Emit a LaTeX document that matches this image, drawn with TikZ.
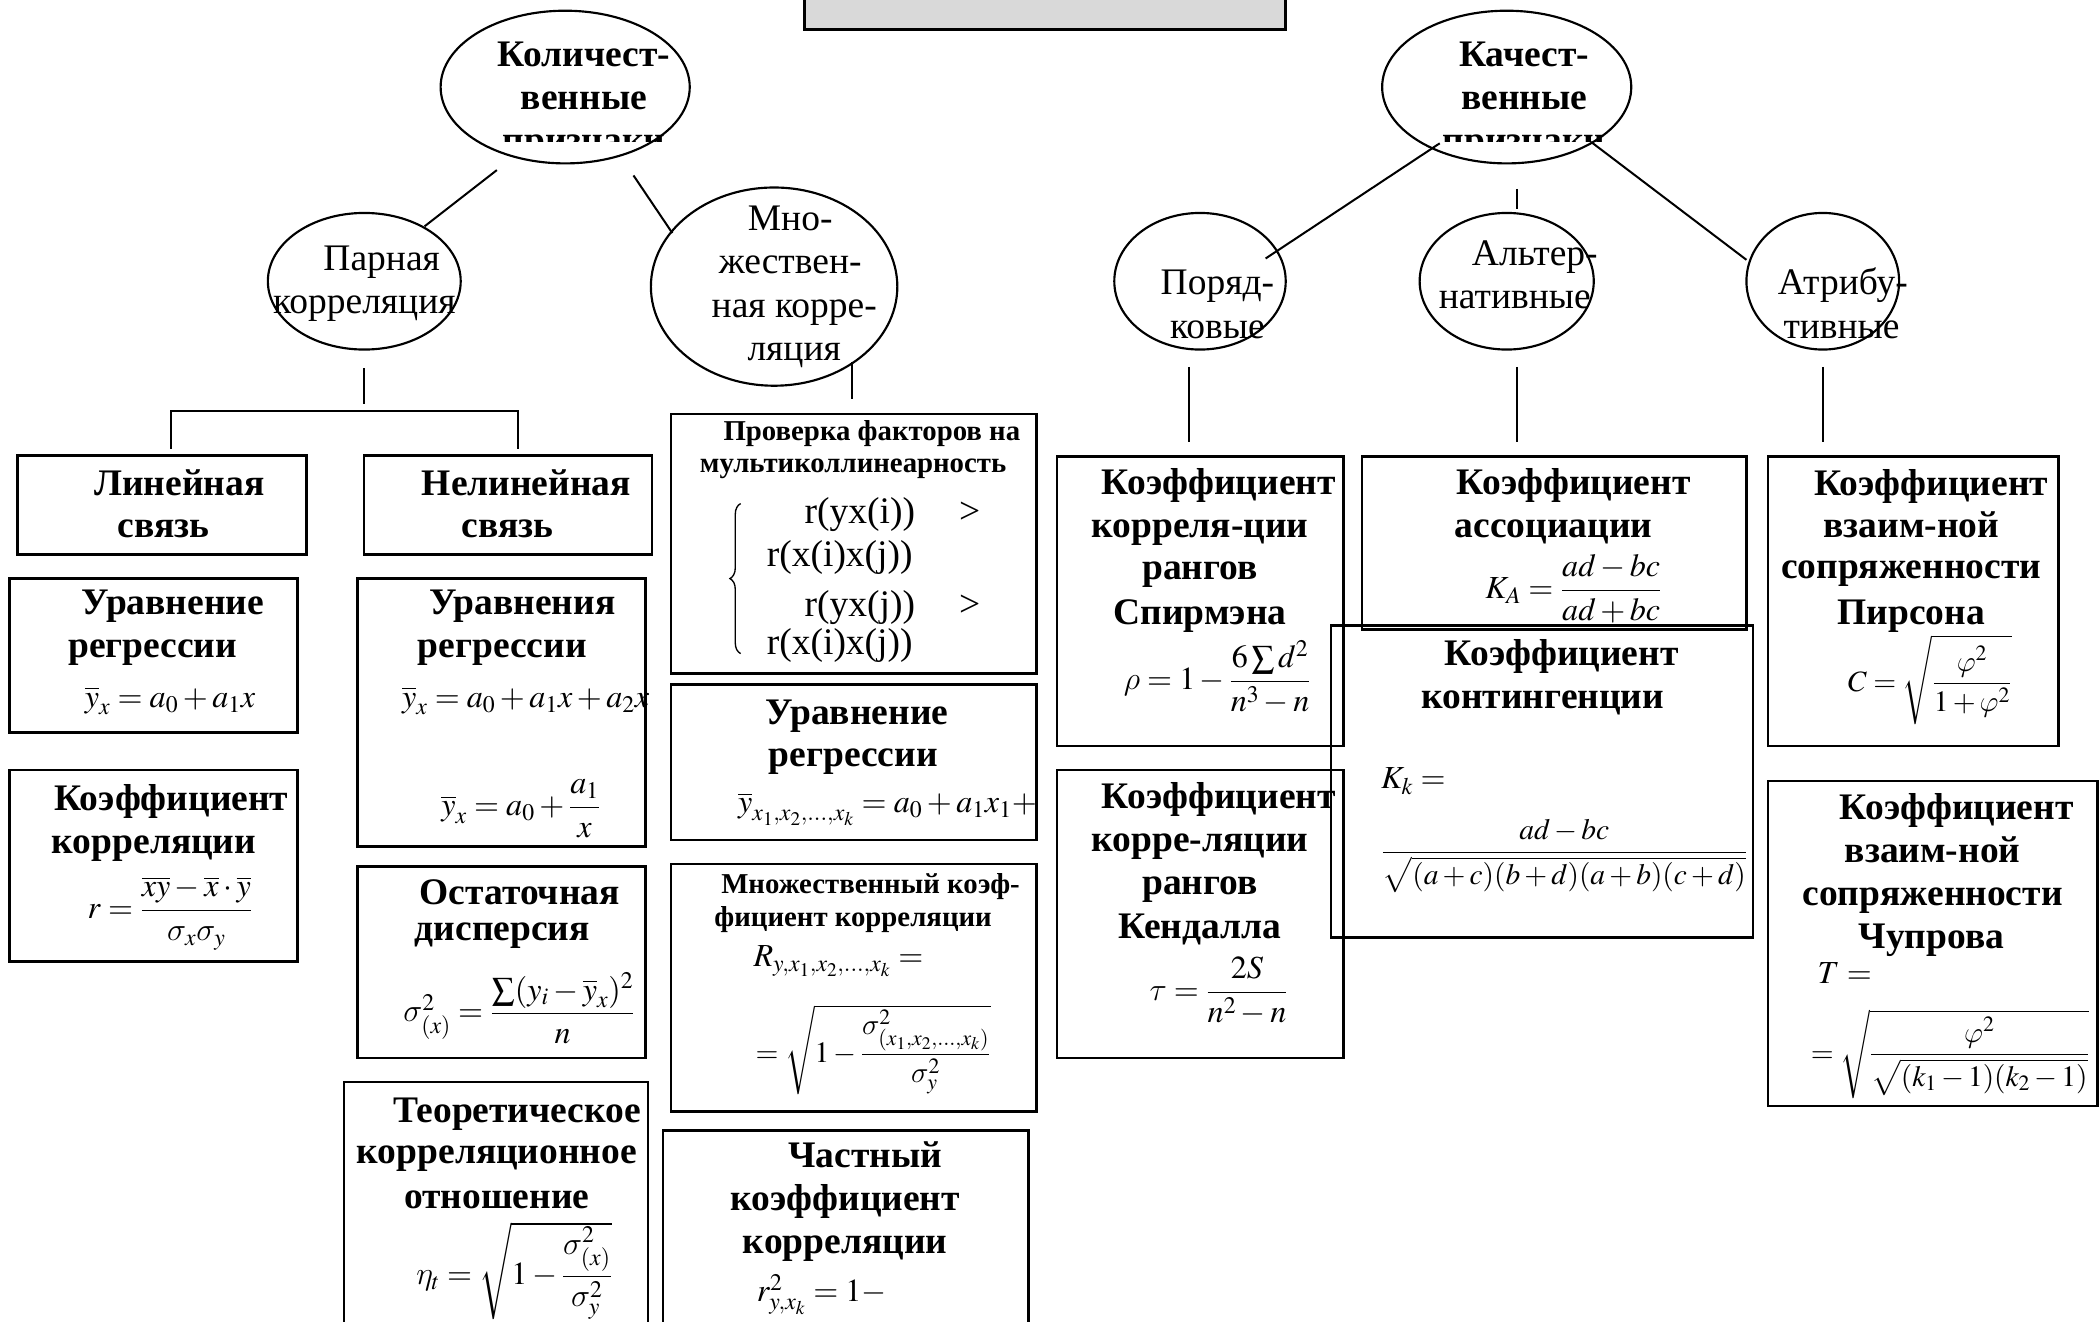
\RequirePackage{fix-cm}
\documentclass[tikz,border=0pt]{standalone}
\usepackage{amsmath}
\usepackage{mathptmx}
\DeclareSymbolFont{cmgreek}{OML}{cmm}{m}{it}
\DeclareMathSymbol{\sigma}{\mathord}{cmgreek}{"1B}
\DeclareMathSymbol{\rho}{\mathord}{cmgreek}{"1A}
\DeclareMathSymbol{\tau}{\mathord}{cmgreek}{"1C}
\DeclareMathSymbol{\eta}{\mathord}{cmgreek}{"11}
\DeclareMathSymbol{\varphi}{\mathord}{cmgreek}{"27}
\usepackage{fontspec}
\setmainfont{Liberation Serif}
\usetikzlibrary{shapes.geometric,decorations.pathreplacing}
\definecolor{greyfill}{RGB}{217,217,217}
\newcounter{tn}
\newcommand{\tline}[4][hd]{\stepcounter{tn}\node[#1,anchor=base] (t\arabic{tn}) at (#2,#3) {#4};}
\newcommand{\mkbox}[5]{\node[box,minimum width={(#4)-(#2)},minimum height={(#5)-(#3)}] (#1) at ({((#2)+(#4))/2},{((#3)+(#5))/2}) {};}
\begin{document}
\begin{tikzpicture}[x=1pt,y=-1pt,
  box/.style={draw,line width=1.8pt,inner sep=0pt},
  oval/.style={draw,ellipse,line width=1.6pt,inner sep=0pt},
  conn/.style={line width=1.5pt},
  hd/.style={font=\fontsize{28}{32}\selectfont\bfseries,inner sep=0pt},
  hds/.style={font=\fontsize{21.5}{24}\selectfont\bfseries,inner sep=0pt},
  rg/.style={font=\fontsize{28}{32}\selectfont,inner sep=0pt},
  fm/.style={font=\fontsize{24}{28}\selectfont,inner sep=0pt},
  fms/.style={font=\fontsize{22}{26}\selectfont,inner sep=0pt}]
\useasboundingbox (0,0) rectangle (1568,987);
\clip (0,0) rectangle (1568,987);
% title box
\node[draw,fill=greyfill,line width=2.2pt,minimum width=359,minimum height=44,inner sep=0pt] (title) at (780.5,0) {};
% ellipses
\node[oval,minimum width=186,minimum height=114] (kol) at (422,65) {};
\node[oval,minimum width=186,minimum height=114] (kach) at (1125,65) {};
\node[oval,minimum width=144,minimum height=102] (par) at (272,210) {};
\node[oval,minimum width=184,minimum height=148] (mnozh) at (578,214) {};
\node[oval,minimum width=128,minimum height=102] (por) at (896,210) {};
\node[oval,minimum width=130,minimum height=102] (alt) at (1125,210) {};
\node[oval,minimum width=114,minimum height=102] (atr) at (1361,210) {};
% ellipse texts
\tline{436}{50}{Количест-}
\tline{436}{82}{венные}
\begin{scope}
\clip (330,0) rectangle (520,106);
\tline{436}{114}{признаки}
\end{scope}
\tline{1138}{50}{Качест-}
\tline{1138}{82}{венные}
\begin{scope}
\clip (1030,0) rectangle (1220,106);
\tline{1138}{114}{признаки}
\end{scope}
\tline[rg]{285}{202}{Парная}
\tline[rg]{272}{234}{корреляция}
\tline[rg]{590}{172}{Мно-}
\tline[rg]{590}{204}{жествен-}
\tline[rg]{593}{237}{ная корре-}
\tline[rg]{593}{269}{ляция}
\tline[rg]{909}{220}{Поряд-}
\tline[rg]{909}{253}{ковые}
\tline[rg]{1146}{198}{Альтер-}
\tline[rg]{1131}{230}{нативные}
\tline[rg]{1376}{220}{Атрибу-}
\tline[rg]{1375}{253}{тивные}
% connectors
\coordinate (k1) at (371,127); \coordinate (k2) at (317,169);
\coordinate (k3) at (473,131); \coordinate (k4) at (502,174);
\coordinate (q1) at (1075,107); \coordinate (q2) at (945,193);
\coordinate (q3) at (1188,106); \coordinate (q4) at (1304,194);
\coordinate (q5) at (1133,141); \coordinate (q6) at (1133,156);
\coordinate (p1) at (272,275); \coordinate (p2) at (272,302);
\coordinate (b1) at (128,335); \coordinate (b2) at (128,307);
\coordinate (b3) at (387,307); \coordinate (b4) at (387,335);
\coordinate (m1) at (636,270); \coordinate (m2) at (636,298);
\coordinate (s1) at (888,274); \coordinate (s2) at (888,330);
\coordinate (s3) at (1133,274); \coordinate (s4) at (1133,330);
\coordinate (s5) at (1361,274); \coordinate (s6) at (1361,330);
\draw[conn] (k1) -- (k2);
\draw[conn] (k3) -- (k4);
\draw[conn] (q1) -- (q2);
\draw[conn] (q3) -- (q4);
\draw[conn] (q5) -- (q6);
\draw[conn] (p1) -- (p2);
\draw[conn] (b1) -- (b2) -- (b3) -- (b4);
\draw[conn] (m1) -- (m2);
\draw[conn] (s1) -- (s2);
\draw[conn] (s3) -- (s4);
\draw[conn] (s5) -- (s6);
% boxes
\mkbox{lin}{13}{340}{229}{414}
\mkbox{nelin}{272}{340}{487}{414}
\mkbox{urone}{7}{432}{222}{547}
\mkbox{kor}{7}{575}{222}{718}
\mkbox{urtwo}{267}{432}{482}{632}
\mkbox{ost}{267}{647}{482}{790}
\mkbox{teor}{257}{808}{484}{1000}
\mkbox{prov}{501}{309}{774}{503}
\mkbox{urm}{501}{511}{774}{627}
\mkbox{mnk}{501}{645}{774}{830}
\mkbox{chast}{495}{844}{768}{1000}
\mkbox{spir}{789}{341}{1003}{557}
\mkbox{kend}{789}{575}{1003}{790}
\mkbox{assoc}{1017}{341}{1304}{470}
\mkbox{kont}{994}{467}{1309}{700}
\mkbox{pirs}{1320}{341}{1537}{557}
\mkbox{chup}{1320}{583}{1566}{826}
% box headings
\tline{134}{370}{Линейная}
\tline{122}{401}{связь}
\tline{393}{370}{Нелинейная}
\tline{379}{401}{связь}
\tline{129}{459}{Уравнение}
\tline{114}{491}{регрессии}
\tline{128}{605}{Коэффициент}
\tline{115}{637}{корреляции}
\tline{390}{459}{Уравнения}
\tline{375}{491}{регрессии}
\tline{388}{675}{Остаточная}
\tline{375}{702}{дисперсия}
\tline{386}{838}{Теоретическое}
\tline{371}{869}{корреляционное}
\tline{371}{902}{отношение}
\tline[hds]{651}{329}{Проверка факторов на}
\tline[hds]{637}{353}{мультиколлинеарность}
\tline{640}{541}{Уравнение}
\tline{637}{572}{регрессии}
\tline[hds]{650}{667}{Множественный коэф-}
\tline[hds]{637}{692}{фициент корреляции}
\tline{646}{872}{Частный}
\tline{631}{904}{коэффициент}
\tline{631}{936}{корреляции}
\tline{910}{369}{Коэффициент}
\tline{896}{401}{корреля-ции}
\tline{896}{433}{рангов}
\tline{896}{466}{Спирмэна}
\tline{910}{604}{Коэффициент}
\tline{896}{636}{корре-ляции}
\tline{896}{668}{рангов}
\tline{896}{701}{Кендалла}
\tline{1175}{369}{Коэффициент}
\tline{1160}{401}{ассоциации}
\tline{1166}{497}{Коэффициент}
\tline{1152}{529}{контингенции}
\tline{1442}{370}{Коэффициент}
\tline{1427}{401}{взаим-ной}
\tline{1427}{432}{сопряженности}
\tline{1427}{466}{Пирсона}
\tline{1461}{612}{Коэффициент}
\tline{1443}{644}{взаим-ной}
\tline{1443}{676}{сопряженности}
\tline{1442}{708}{Чупрова}
% multicollinearity conditions
\tline[rg]{642}{391}{r(yx(i))}
\tline[rg]{724}{391}{>}
\tline[rg]{627}{423}{r(x(i)x(j))}
\tline[rg]{642}{460}{r(yx(j))}
\tline[rg]{724}{460}{>}
\tline[rg]{627}{489}{r(x(i)x(j))}
\coordinate (brA) at (553,488); \coordinate (brB) at (553,376);
\draw[decorate,decoration={brace,amplitude=8pt},line width=1pt] (brA) -- (brB);
% formulas
\node[fm,anchor=base] (f1) at (127,528) {$\overline{y}_x = a_0 + a_1x$};
\node[fm,anchor=base] (f2) at (127,686) {$r = \dfrac{\overline{xy} - \overline{x}\cdot\overline{y}}{\sigma_x\sigma_y}$};
\begin{scope}
\clip (268,500) rectangle (488,545);
\node[fm,anchor=base west] (f3) at (300,528) {$\overline{y}_x = a_0 + a_1x + a_2x$};
\end{scope}
\node[fm,anchor=base] (f4) at (389,609) {$\overline{y}_x = a_0 + \dfrac{a_1}{x}$};
\begin{scope}
\clip (268,715) rectangle (481,789);
\node[fm,anchor=base west] (f5) at (301,763) {$\sigma^2_{(x)} = \dfrac{\sum (y_i - \overline{y}_x)^2}{n}$};
\end{scope}
\node[fm,anchor=base] (f6) at (384,959) {$\eta_t = \sqrt{1 - \dfrac{\sigma^2_{(x)}}{\sigma^2_y}}$};
\node[fm,anchor=base west] (f7) at (551,607) {$\overline{y}_{x_1,x_2,\dots,x_k} = a_0 + a_1x_1 +$};
\node[fm,anchor=base] (f8) at (626,722) {$R_{y,x_1,x_2,\dots,x_k} =$};
\node[fms,anchor=base] (f9) at (652,793) {$= \sqrt{1 - \dfrac{\sigma^2_{(x_1,x_2,\dots,x_k)}}{\sigma^2_y}}$};
\node[fm,anchor=base west] (f10) at (565,972) {$r^2_{y,x_k} = 1 -$};
\node[fm,anchor=base] (f11) at (909,515) {$\rho = 1 - \dfrac{6\sum d^2}{n^3-n}$};
\node[fm,anchor=base] (f12) at (910,747) {$\tau = \dfrac{2S}{n^2-n}$};
\begin{scope}
\clip (1018,400) rectangle (1303,469);
\node[fm,anchor=base] (f13) at (1175,447) {$K_A = \dfrac{ad-bc}{ad+bc}$};
\end{scope}
\node[fm,anchor=base west] (f14) at (1031,589) {$K_k =$};
\node[fms,anchor=base] (f15) at (1168,642) {$\dfrac{ad-bc}{\sqrt{(a+c)(b+d)(a+b)(c+d)}}$};
\node[fms,anchor=base] (f16) at (1441,516) {$C = \sqrt{\dfrac{\varphi^2}{1+\varphi^2}}$};
\node[fm,anchor=base west] (f17) at (1357,734) {$T =$};
\node[fms,anchor=base] (f18) at (1456,793) {$= \sqrt{\dfrac{\varphi^2}{\sqrt{(k_1-1)(k_2-1)}}}$};
\end{tikzpicture}
\end{document}
